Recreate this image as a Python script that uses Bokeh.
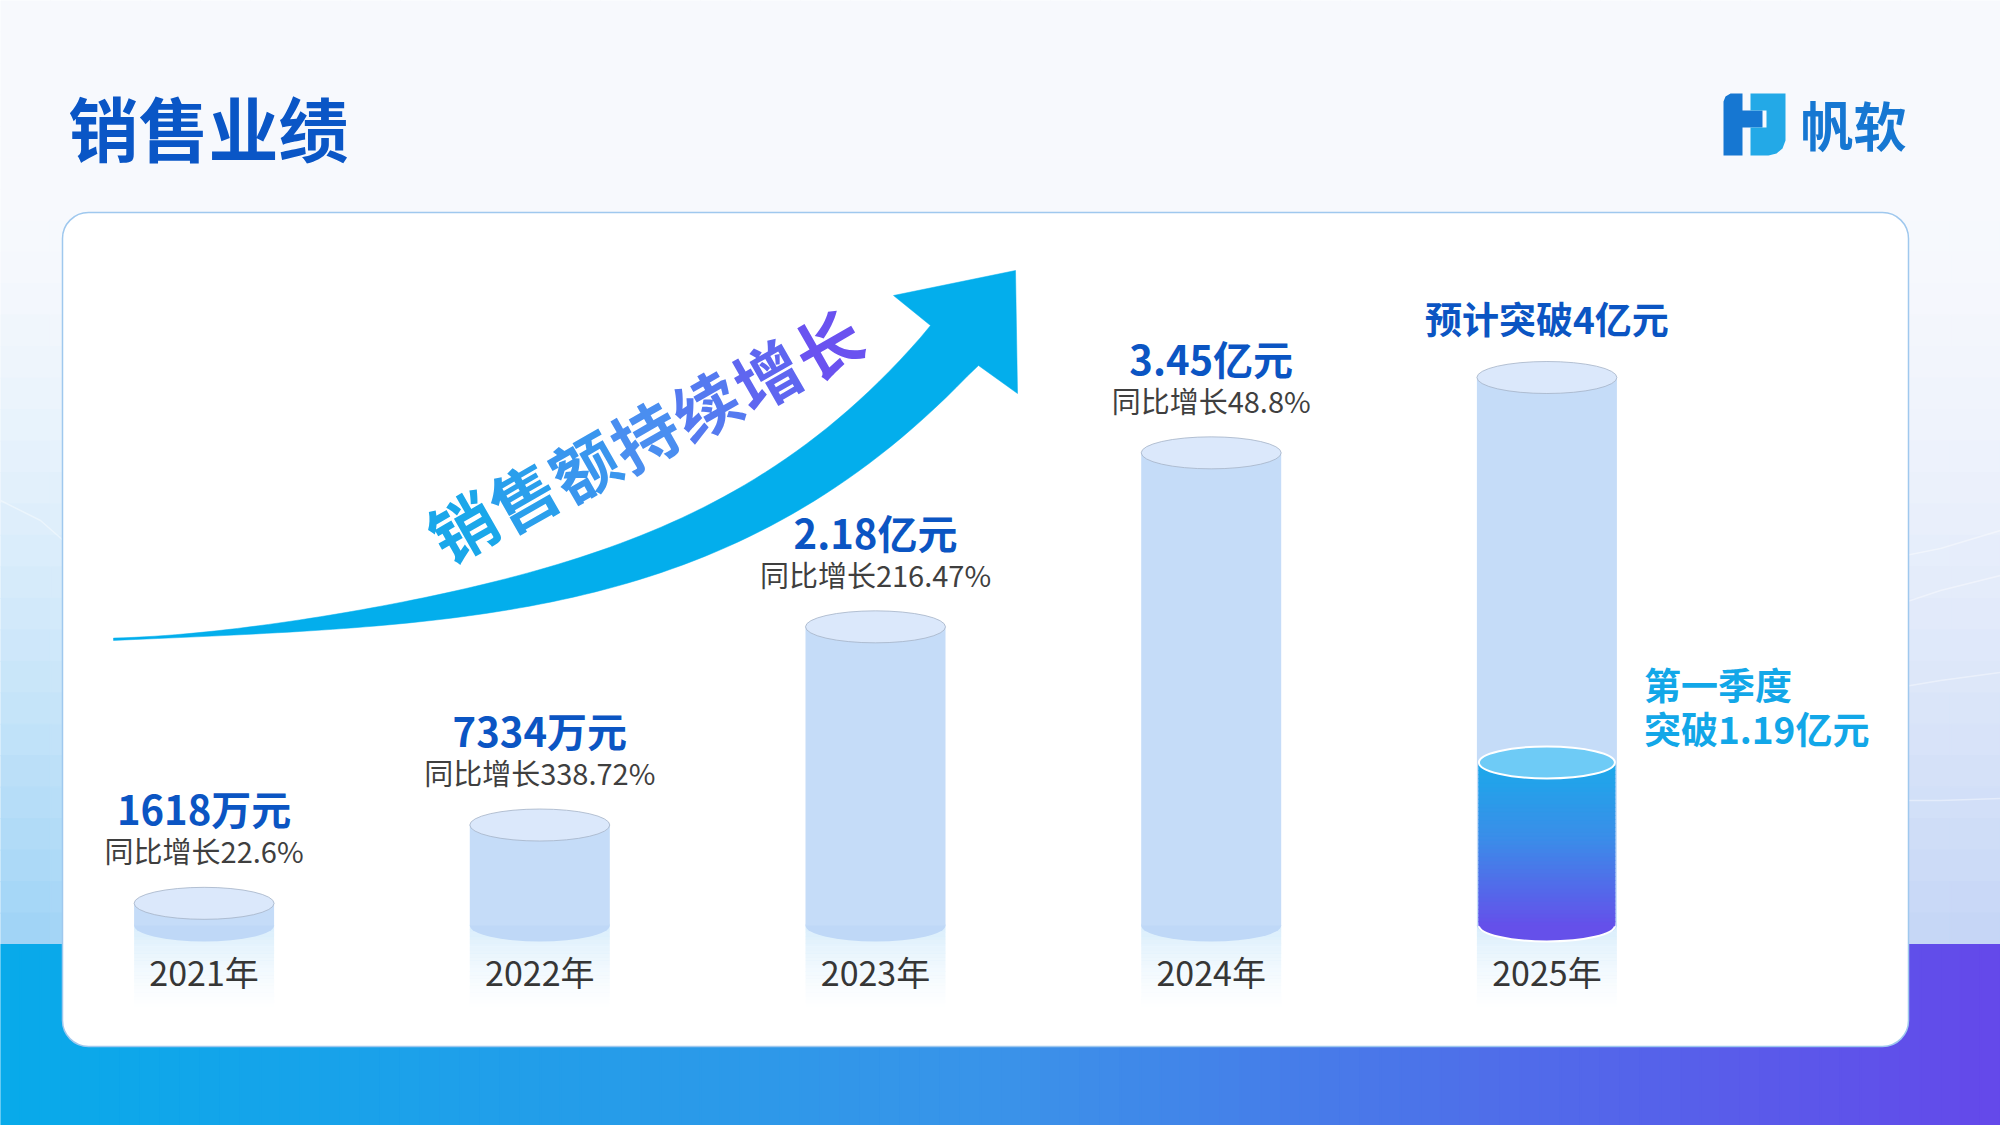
import numpy as np
from bokeh.plotting import figure
from bokeh.models import Range1d, BoxAnnotation, ColumnDataSource
from bokeh.core.properties import value
from bokeh.embed import file_html
from bokeh.resources import INLINE

# ---------------- data ----------------
years = [2021, 2022, 2023, 2024, 2025]
sales = [0.1618, 0.7334, 2.18, 3.45, 4.0]          # 亿元 (2025 = forecast)
value_labels = ["1618万元", "7334万元", "2.18亿元", "3.45亿元"]
growth_labels = ["同比增长22.6%", "同比增长338.72%", "同比增长216.47%", "同比增长48.8%"]
year_labels = ["2021年", "2022年", "2023年", "2024年", "2025年"]
forecast_label = "预计突破4亿元"
q1_year = 2025
q1_value = 1.19
q1_lines = ["第一季度", "突破1.19亿元"]
title_text = "销售业绩"
slogan = "销售额持续增长"
brand = "帆软"

# ---------------- layout ----------------
W, H, OFF = 2000, 1125, 0
BASE_Y = 925          # page y of value 0
K = 137.0             # px per 亿元
X0, DX = 875.0, 335.7 # page x of 2023, px per year
FONT = value("Noto Sans CJK SC")


def hx(c):
    return np.array([int(c[i:i + 2], 16) for i in (1, 3, 5)], dtype=float)


def grad(stops, t):
    t = float(np.clip(t, 0, 1))
    for (t0, c0), (t1, c1) in zip(stops[:-1], stops[1:]):
        if t <= t1:
            u = 0 if t1 == t0 else (t - t0) / (t1 - t0)
            c = hx(c0) + (hx(c1) - hx(c0)) * u
            return "#%02x%02x%02x" % tuple(int(round(v)) for v in c)
    return stops[-1][1]


p = figure(width=W, height=H, x_range=Range1d(OFF, OFF + W), y_range=Range1d(OFF + H, OFF),
           output_backend="svg", toolbar_location=None, min_border=0,
           x_axis_location=None, y_axis_location=None)
p.grid.visible = False
p.outline_line_color = None
p.background_fill_color = "white"
p.border_fill_color = "white"
p.extra_x_ranges = {"yr": Range1d(2023 + (OFF - X0) / DX, 2023 + (OFF + W - X0) / DX)}
p.extra_y_ranges = {"val": Range1d((BASE_Y - (OFF + H)) / K, (BASE_Y - OFF) / K)}

# ---------------- background ----------------
bx = np.linspace(0, 2000, 41)
by = np.linspace(0, 944, 31)
L, R, T, B, C = [], [], [], [], []
for i in range(40):
    for j in range(30):
        cx = (bx[i] + bx[i + 1]) / 2
        cy = (by[j] + by[j + 1]) / 2
        t = np.clip((cy - 200) / 744, 0, 1) ** 1.5
        bottom_col = grad([(0, "#9dd3f6"), (0.4, "#c9e2f8"), (1, "#c4d5f6")], cx / 2000)
        L.append(bx[i]); R.append(bx[i + 1]); T.append(by[j]); B.append(by[j + 1])
        C.append(grad([(0, "#f7f9fd"), (1, bottom_col)], t))
r = p.quad(left=L, right=R, top=T, bottom=B, fill_color=C, line_color=C, line_width=1.2)
r.level = "image"

# faint white waves in the background
waves = [
    ([0, 40, 80], [500, 520, 555]),
    ([1880, 1940, 2000], [560, 548, 530]),
    ([1880, 1940, 2000], [610, 590, 575]),
    ([1880, 1940, 2000], [690, 680, 672]),
    ([1880, 1940, 2000], [800, 800, 798]),
]
r = p.multi_line([w[0] for w in waves], [w[1] for w in waves], line_color="white",
                 line_alpha=0.4, line_width=1.5)
r.level = "image"

sx = np.linspace(0, 2000, 101)
bc = [grad([(0, "#07aaea"), (0.5, "#3a93e9"), (1, "#6448ea")], (a + b) / 4000) for a, b in zip(sx[:-1], sx[1:])]
r = p.quad(left=sx[:-1], right=sx[1:], top=944, bottom=1125, fill_color=bc, line_color=bc, line_width=1.2)
r.level = "image"

# card
card = BoxAnnotation(left=62, right=1908, top=212, bottom=1046, fill_color="white", fill_alpha=1,
                     line_color="#9fc8ee", line_alpha=1, line_width=1.5, line_dash="solid",
                     border_radius=26, level="underlay")
p.add_layout(card)

# ---------------- title & logo ----------------
p.text(x=[68], y=[126], text=[title_text], text_font=FONT, text_font_style="bold",
       text_font_size="70px", text_color="#0a56c6", text_baseline="middle", text_align="left")
dark = [(1723, 155), (1723, 101), (1725, 96), (1730, 93), (1742, 93), (1742, 110), (1762, 110),
        (1762, 127), (1742, 127), (1742, 155)]
light = [(1750, 93), (1785, 93), (1785, 140), (1782, 148), (1776, 153), (1768, 155), (1750, 155),
         (1750, 127), (1766, 127), (1766, 110), (1750, 110)]
p.patch([q[0] for q in dark], [q[1] for q in dark], fill_color="#1677d2", line_color=None)
p.patch([q[0] for q in light], [q[1] for q in light], fill_color="#23a9e7", line_color=None)
p.text(x=[1800], y=[123], text=[brand], text_font=FONT, text_font_style="bold",
       text_font_size="53px", text_color="#1677d2", text_baseline="middle", text_align="left")


# ---------------- arrow ----------------
def smooth_edge(pts, x_end, n=80):
    pts = np.array(pts, dtype=float)
    coef = np.polyfit(pts[:, 0], pts[:, 1], 4)
    xs = np.linspace(pts[0, 0], x_end, n)
    ys = np.polyval(coef, xs)
    return np.column_stack([xs, ys])


upper = smooth_edge([(113, 638), (200, 631), (350, 612), (500, 580), (600, 549), (667, 524),
                     (800, 448), (880, 380), (930, 325)], 930)
lower = smooth_edge([(113, 639), (200, 638), (350, 627), (500, 608), (633, 584), (767, 527),
                     (900, 436), (978, 365)], 978)
upper[-1] = (930, 325)
lower[-1] = (978, 365)
head = np.array([(893, 295), (1015, 270), (1017, 393)], dtype=float)
poly = np.vstack([upper, head, lower[::-1]])
p.patch(poly[:, 0], poly[:, 1], fill_color="#03aeec", line_color="#03aeec", line_width=0.5)

# slogan, char by char with gradient
n = len(slogan)
sx0, sy0, sx1, sy1 = 461, 524, 826, 342
cols = [grad([(0, "#1aa7ea"), (0.5, "#4a8ef0"), (1, "#6a52f0")], k / (n - 1)) for k in range(n)]
p.text(x=[sx0 + (sx1 - sx0) * k / (n - 1) for k in range(n)],
       y=[sy0 + (sy1 - sy0) * k / (n - 1) for k in range(n)],
       text=list(slogan), angle=0.52, text_font=FONT, text_font_style="bold",
       text_font_size="66px", text_color=cols, text_align="center", text_baseline="middle")

# ---------------- cylinders ----------------
BW = 140
src = ColumnDataSource(dict(yr=years, v=sales, half=[v / 2 for v in sales], zero=[0] * len(years)))
kw = dict(x_range_name="yr", y_range_name="val")

# reflections
nr = 24
depth = 85 / K
rx, ry, rh, ra = [], [], [], []
for yv in years:
    for k in range(nr):
        rx.append(yv); ry.append(-depth * (k + 0.5) / nr); rh.append(depth / nr * 1.05)
        ra.append(0.85 * (1 - k / nr) ** 1.5)
p.rect(x=rx, y=ry, width=BW, height=rh, width_units="screen", fill_color="#d3ebfb",
       fill_alpha=ra, line_color=None, **kw)

body = "#c5dcf8"
p.ellipse(x="yr", y="zero", width=BW, height=32, width_units="screen", height_units="screen",
          fill_color="#bfd8f7", line_color=None, source=src, **kw)
p.rect(x="yr", y="half", width=BW, height="v", width_units="screen", fill_color=body,
       line_color=None, source=src, **kw)

# Q1 inner cylinder
IW = 136
p.ellipse(x=[q1_year], y=[0], width=IW, height=32, width_units="screen", height_units="screen",
          fill_color="#6550ea", line_color="white", line_width=2, **kw)
ns = 40
qy, qh, qc = [], [], []
for k in range(ns):
    qy.append(q1_value * (k + 0.5) / ns); qh.append(q1_value / ns * 1.15)
    qc.append(grad([(0, "#6550ea"), (0.55, "#3a8ee9"), (1, "#1ba9ea")], (k + 0.5) / ns))
p.rect(x=[q1_year] * ns, y=qy, width=IW, height=qh, width_units="screen", fill_color=qc,
       line_color=qc, line_width=1, **kw)
p.ellipse(x=[q1_year], y=[q1_value], width=IW, height=32, width_units="screen", height_units="screen",
          fill_color="#6ecbf6", line_color="white", line_width=2, **kw)

# top ellipses
p.ellipse(x="yr", y="v", width=BW, height=32, width_units="screen", height_units="screen",
          fill_color="#dbe8fb", line_color="#a4b2c6", line_width=0.8, source=src, **kw)

# ---------------- labels ----------------
p.text(x=years[:4], y=sales[:4], text=value_labels, y_offset=-95, text_font=FONT,
       text_font_style="bold", text_font_size="40px", text_color="#0b55c3",
       text_align="center", text_baseline="middle", **kw)
p.text(x=years[:4], y=sales[:4], text=growth_labels, y_offset=-53, text_font=FONT,
       text_font_size="29px", text_color="#3f3f3f", text_align="center", text_baseline="middle", **kw)
p.text(x=[years[4]], y=[sales[4]], text=[forecast_label], y_offset=-60, text_font=FONT,
       text_font_style="bold", text_font_size="37px", text_color="#0b55c3",
       text_align="center", text_baseline="middle", **kw)
p.text(x=years, y=[0] * len(years), text=year_labels, y_offset=46, text_font=FONT,
       text_font_size="34px", text_color="#363636", text_align="center", text_baseline="middle", **kw)
p.text(x=[q1_year, q1_year], y=[q1_value, q1_value], text=q1_lines, x_offset=97, y_offset=[-78, -34],
       text_font=FONT, text_font_style="bold", text_font_size="37px", text_color="#12a7e8",
       text_align="left", text_baseline="middle", **kw)

open("out.html", "w").write(file_html(p, INLINE))
